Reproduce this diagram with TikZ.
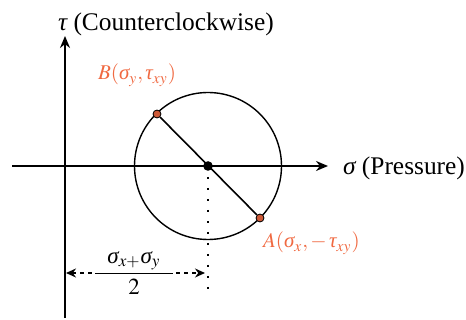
\documentclass[tikz,border=0pt]{standalone}
\usepackage{amsmath}
\usepackage{mathptmx}
\usepackage{fontspec}
\setmainfont{Liberation Serif}
\usepackage{tikz}
\usetikzlibrary{arrows.meta}
\definecolor{mohrorange}{RGB}{240,105,65}
\newcommand{\gsig}{\mbox{\itshape σ}}
\newcommand{\gtau}{\mbox{\itshape τ}}
\tikzset{
    axis/.style={line width=1pt,-{Stealth[length=6pt,width=5pt]}},
    dimline/.style={line width=0.7pt,dash pattern=on 2pt off 2pt,{Stealth[length=5pt,width=4.5pt]}-{Stealth[length=5pt,width=4.5pt]}},
    stress/.style={circle,draw=black,fill=mohrorange!85!black,line width=0.4pt,inner sep=1.4pt},
    axlabel/.style={font=\fontsize{12.7}{15}\selectfont},
    ptlabel/.style={text=mohrorange,font=\fontsize{10.5}{12}\selectfont},
}

\begin{document}
\begin{tikzpicture}[x=0.5pt,y=-0.5pt]
    \useasboundingbox (0,0) rectangle (466,320);
    % axes
    \coordinate (O) at (65,166);
    \coordinate (taubot) at (65,318);
    \coordinate (tautop) at (65,36);
    \coordinate (sigleft) at (12,166);
    \coordinate (sigright) at (328,166);
    \draw[axis] (taubot)--(tautop);
    \draw[axis] (sigleft)--(sigright);
    \node[axlabel,anchor=base west] (taulbl) at (51,31) {\gtau{} (Counterclockwise)};
    \node[axlabel,anchor=base west] (siglbl) at (336,175) {\gsig{} (Pressure)};
    % circle
    \coordinate (C) at (208,166);
    \draw[line width=0.7pt] (C) circle[radius=73.5];
    \node[stress] (B) at (157,114) {};
    \node[stress] (A) at (260,218) {};
    \draw[line width=0.8pt] (B)--(A);
    \node[circle,fill=black,inner sep=1.7pt] (Cdot) at (C) {};
    \node[ptlabel,anchor=base west] (Blbl) at (91,80) {$B(\gsig_y,\gtau_{xy})$};
    \node[ptlabel,anchor=base west] (Albl) at (256,248) {$A(\gsig_x,-\,\gtau_{xy})$};
    % centre distance
    \coordinate (Cbot) at (208,293);
    \draw[line width=1pt,dash pattern=on 1pt off 4.5pt] (C)--(Cbot);
    \coordinate (dimL) at (66,273);
    \coordinate (dimR) at (205,273);
    \draw[dimline] (dimL)--(dimR);
    \node[fill=white,inner sep=0pt,font=\fontsize{11.5}{13}\selectfont] (half) at (134,273)
        {$\dfrac{\hspace{6pt}\gsig_{x+}\gsig_y\hspace{6pt}}{2}$};
\end{tikzpicture}
\end{document}
